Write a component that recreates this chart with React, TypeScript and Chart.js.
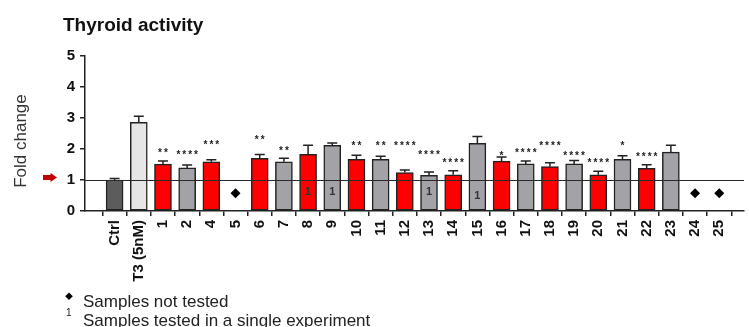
import React, { useEffect, useRef } from "react";
import { Chart, registerables } from "chart.js";

Chart.register(...registerables);

// ---------- data ----------
const categories = ["Ctrl", "T3 (5nM)", "1", "2", "4", "5", "6", "7", "8", "9", "10", "11", "12", "13", "14", "15", "16", "17", "18", "19", "20", "21", "22", "23", "24", "25"];
const foldChange = [1.0, 2.86, 1.51, 1.39, 1.59, null, 1.7, 1.59, 1.83, 2.12, 1.67, 1.67, 1.24, 1.15, 1.17, 2.18, 1.61, 1.52, 1.43, 1.52, 1.17, 1.67, 1.38, 1.9, null, null];
const errorUpper = [1.05, 3.06, 1.61, 1.48, 1.65, null, 1.82, 1.7, 2.12, 2.19, 1.8, 1.77, 1.32, 1.26, 1.3, 2.4, 1.74, 1.61, 1.56, 1.63, 1.28, 1.78, 1.49, 2.12, null, null];
const barGroup = ["ctrl", "t3", "red", "grey", "red", "", "red", "grey", "red", "grey", "red", "grey", "red", "grey", "red", "grey", "red", "grey", "red", "grey", "red", "grey", "red", "grey", "", ""];
const significance = ["", "", "**", "****", "***", "", "**", "**", "", "", "**", "**", "****", "****", "****", "", "*", "****", "****", "****", "****", "*", "****", "", "", ""];
const starLevel = [null, null, 1.97, 1.91, 2.23, null, 2.4, 2.04, null, null, 2.18, 2.18, 2.18, 1.91, 1.66, null, 1.87, 1.97, 2.18, 1.87, 1.66, 2.2, 1.84, null, null, null];
const notTestedIdx = [5, 24, 25];
const notTestedLevel = [0.57, 0.57, 0.57];
const singleExpIdx = [8, 9, 13, 15];
const singleExpLevel = [0.6, 0.6, 0.6, 0.48];
const referenceLevel = 1;
const yTicks = [0, 1, 2, 3, 4, 5];

const title = "Thyroid activity";
const yTitle = "Fold change";
const legendNotTested = "Samples not tested";
const legendSingle = "Samples tested in a single experiment";

const groupColors: Record<string, string> = {
  ctrl: "#5c5c5c",
  t3: "#e6e6e6",
  red: "#ff0000",
  grey: "#a3a3a7",
  "": "rgba(0,0,0,0)",
};

const FONT = "'Liberation Sans', Arial, sans-serif";

const overlay = {
  id: "overlay",
  afterDatasetsDraw(chart: any) {
    const { ctx, scales, chartArea } = chart;
    const x = scales.x;
    const y = scales.y;
    ctx.save();
    // reference line
    const y1 = Math.round(y.getPixelForValue(referenceLevel)) + 0.5;
    ctx.strokeStyle = "#2a2a2a";
    ctx.lineWidth = 1.2;
    ctx.beginPath();
    ctx.moveTo(chartArea.left, y1);
    ctx.lineTo(chartArea.right, y1);
    ctx.stroke();

    // error bars
    ctx.strokeStyle = "#222";
    ctx.lineWidth = 1.5;
    errorUpper.forEach((e, i) => {
      const v = foldChange[i];
      if (e == null || v == null) return;
      const px = x.getPixelForValue(i);
      const top = y.getPixelForValue(v);
      const ep = y.getPixelForValue(e);
      ctx.beginPath();
      ctx.moveTo(px, top);
      ctx.lineTo(px, ep);
      ctx.moveTo(px - 5, ep);
      ctx.lineTo(px + 5, ep);
      ctx.stroke();
    });

    // significance stars
    ctx.fillStyle = "#222";
    ctx.font = `bold 10px ${FONT}`;
    (ctx as any).letterSpacing = "2px";
    ctx.textAlign = "center";
    ctx.textBaseline = "alphabetic";
    significance.forEach((s, i) => {
      const lv = starLevel[i];
      if (!s || lv == null) return;
      const px = x.getPixelForValue(i);
      const py = y.getPixelForValue(lv);
      ctx.fillText(s, px + 1, py + 6);
    });
    (ctx as any).letterSpacing = "0px";

    // single-experiment markers
    ctx.font = `bold 11px ${FONT}`;
    ctx.fillStyle = "#333";
    ctx.textBaseline = "middle";
    singleExpIdx.forEach((idx, k) => {
      ctx.fillText("1", x.getPixelForValue(idx), y.getPixelForValue(singleExpLevel[k]));
    });
    ctx.restore();
  },
  afterDraw(chart: any) {
    const { ctx, scales } = chart;
    const y = scales.y;
    ctx.save();
    // title
    ctx.fillStyle = "#111";
    ctx.font = `bold 19px ${FONT}`;
    ctx.textAlign = "left";
    ctx.textBaseline = "alphabetic";
    ctx.fillText(title, 63, 31);

    // y axis title
    ctx.save();
    ctx.translate(21, 141);
    ctx.rotate(-Math.PI / 2);
    ctx.font = `17px ${FONT}`;
    ctx.fillStyle = "#333";
    ctx.textAlign = "center";
    ctx.textBaseline = "middle";
    ctx.fillText(yTitle, 0, 0);
    ctx.restore();

    // red arrow pointing to reference level
    const ay = y.getPixelForValue(referenceLevel) - 2.5;
    ctx.fillStyle = "#c00000";
    ctx.beginPath();
    ctx.moveTo(43, ay - 2.5);
    ctx.lineTo(50.5, ay - 2.5);
    ctx.lineTo(50.5, ay - 4.5);
    ctx.lineTo(57, ay);
    ctx.lineTo(50.5, ay + 4.5);
    ctx.lineTo(50.5, ay + 2.5);
    ctx.lineTo(43, ay + 2.5);
    ctx.closePath();
    ctx.fill();

    // legend
    ctx.fillStyle = "#000";
    ctx.beginPath();
    ctx.moveTo(69, 292.5);
    ctx.lineTo(72.8, 296.3);
    ctx.lineTo(69, 300.1);
    ctx.lineTo(65.2, 296.3);
    ctx.closePath();
    ctx.fill();
    ctx.font = `10px ${FONT}`;
    ctx.fillStyle = "#222";
    ctx.textAlign = "left";
    ctx.fillText("1", 66, 316);
    ctx.font = `17px ${FONT}`;
    ctx.fillStyle = "#222";
    ctx.fillText(legendNotTested, 83, 306.5);
    ctx.fillText(legendSingle, 83, 326);
    ctx.restore();
  },
};

export default function App() {
  const ref = useRef<HTMLCanvasElement | null>(null);
  useEffect(() => {
    if (!ref.current) return;
    const chart = new Chart(ref.current, {
      data: {
        datasets: [
          {
            type: "bar",
            data: foldChange.map((v, i) => ({ x: i, y: v })) as any,
            backgroundColor: barGroup.map((g) => groupColors[g]),
            borderColor: "#222",
            borderWidth: 1.5,
            barThickness: 17,
            borderSkipped: false,
          } as any,
          {
            type: "scatter",
            data: notTestedIdx.map((idx, k) => ({ x: idx, y: notTestedLevel[k] })),
            pointStyle: "rectRot",
            pointRadius: 5,
            backgroundColor: "#000",
            borderColor: "#000",
            borderWidth: 0,
          } as any,
        ],
      },
      options: {
        responsive: false,
        animation: false,
        layout: { padding: { top: 56, left: 0, right: 0, bottom: 0 } },
        plugins: { legend: { display: false }, tooltip: { enabled: false }, title: { display: false } },
        scales: {
          x: {
            type: "linear",
            min: -0.7,
            max: 25.5,
            grid: { display: true, drawOnChartArea: false, drawTicks: true, tickLength: 5, color: "#222", lineWidth: 1.5 },
            border: { display: true, color: "#222", width: 1.5 },
            ticks: {
              autoSkip: false,
              minRotation: 90,
              maxRotation: 90,
              padding: 4,
              color: "#111",
              font: { family: FONT, size: 15, weight: "bold" },
              callback: (v: any) => categories[v] ?? "",
            },
            afterBuildTicks: (s: any) => {
              s.ticks = categories.map((_, i) => ({ value: i }));
            },
            afterFit: (s: any) => {
              s.height = 116;
              s.paddingLeft = 0;
              s.paddingRight = 0;
            },
          },
          y: {
            type: "linear",
            min: 0,
            max: 5,
            grid: { display: true, drawOnChartArea: false, drawTicks: true, tickLength: 5, color: "#222", lineWidth: 1.5 },
            border: { display: true, color: "#222", width: 1.5 },
            ticks: {
              padding: 5,
              color: "#111",
              font: { family: FONT, size: 15, weight: "bold" },
            },
            afterBuildTicks: (s: any) => {
              s.ticks = yTicks.map((v) => ({ value: v }));
            },
            afterFit: (s: any) => {
              s.width = 85;
              s.paddingTop = 0;
              s.paddingBottom = 0;
            },
          },
        },
      } as any,
      plugins: [overlay],
    });
    return () => chart.destroy();
  }, []);
  return (
    <div style={{ position: "absolute", left: 0, top: 0, width: 749, height: 327, background: "#fff" }}>
      <canvas ref={ref} width={749} height={327} style={{ display: "block" }} />
    </div>
  );
}
